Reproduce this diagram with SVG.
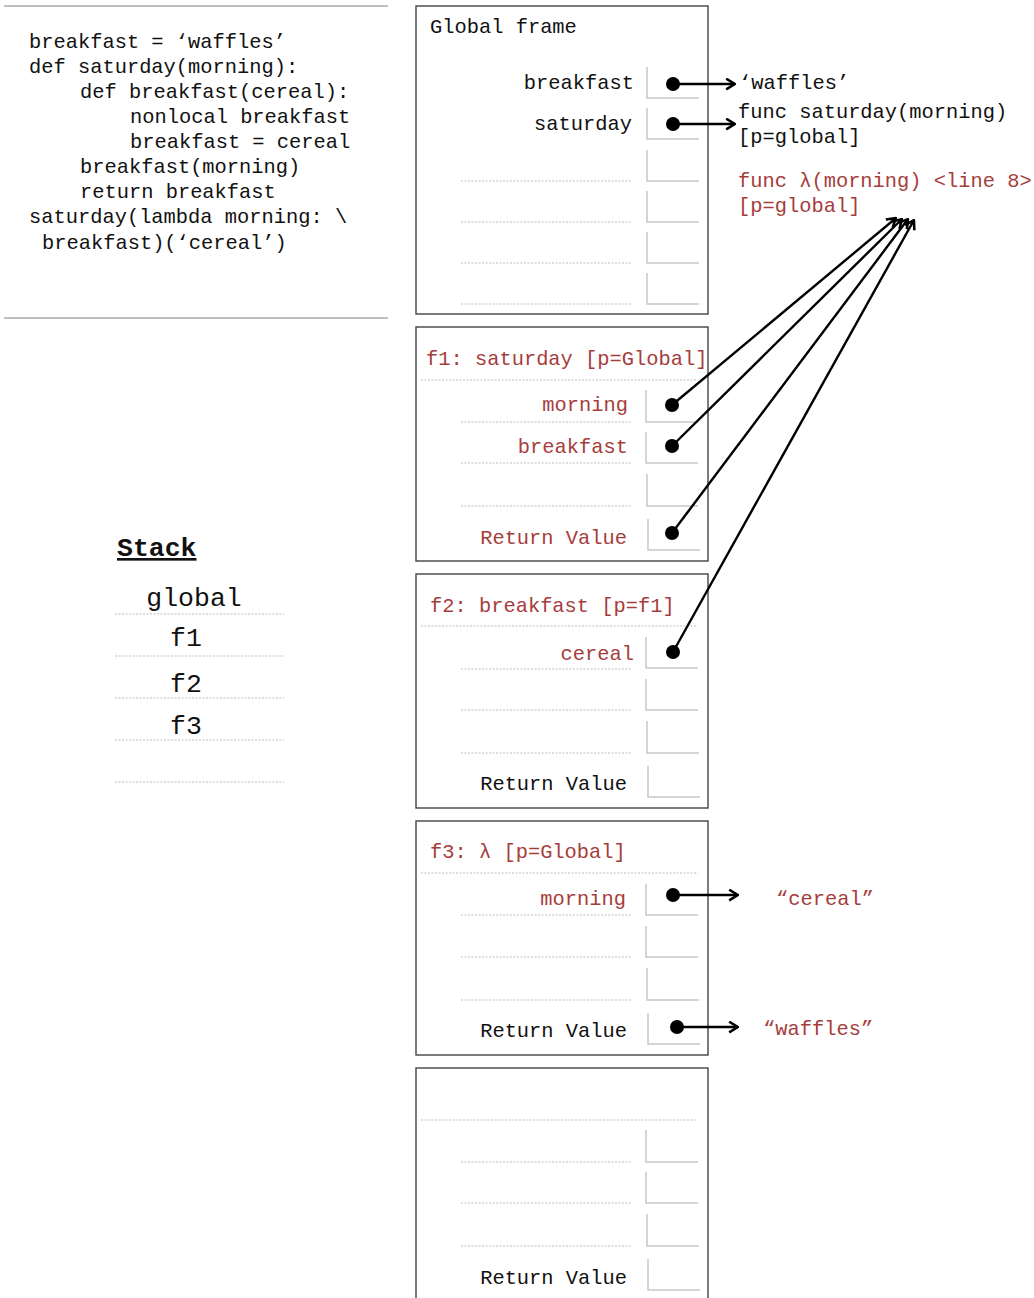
<svg xmlns="http://www.w3.org/2000/svg" width="1034" height="1298" viewBox="0 0 1034 1298">
<style>
text{font-family:"Liberation Mono","DejaVu Sans Mono",monospace;font-size:20.4px;fill:#111}
.r{fill:#a63d3d}
.e{text-anchor:end}
.frame{fill:#fff;stroke:#444;stroke-width:1.4}
.box{fill:none;stroke:#c3c9cd;stroke-width:1.5}
.dash{stroke:#b9bfc3;stroke-width:1;stroke-dasharray:2 1.5;fill:none}
.sep{stroke:#aaa;stroke-width:1.5}
.arr{stroke:#000;stroke-width:2.4;fill:none;marker-end:url(#ah)}
.dot{fill:#000}
.stk{font-size:26.5px}
</style>
<defs>
<marker id="ah" markerUnits="userSpaceOnUse" viewBox="0 0 11 13" refX="10" refY="6.5" markerWidth="11" markerHeight="13" orient="auto">
<path d="M1.2,1.2 L9.8,6.5 L1.2,11.8" fill="none" stroke="#000" stroke-width="2.6"/>
</marker>
</defs>
<rect width="1034" height="1298" fill="#fff"/>
<g id="code">
<line class="sep" x1="4" y1="6" x2="388" y2="6"/>
<line class="sep" x1="4" y1="318" x2="388" y2="318"/>
<text x="29" y="48" xml:space="preserve">breakfast = ‘waffles’</text>
<text x="29" y="73">def saturday(morning):</text>
<text x="80" y="98">def breakfast(cereal):</text>
<text x="130" y="123">nonlocal breakfast</text>
<text x="130" y="148">breakfast = cereal</text>
<text x="80" y="173">breakfast(morning)</text>
<text x="80" y="198">return breakfast</text>
<text x="29" y="223">saturday(lambda morning: \</text>
<text x="42" y="249">breakfast)(‘cereal’)</text>
</g>
<g id="stack">
<text class="stk" x="117" y="556" font-weight="bold" text-decoration="underline">Stack</text>
<text class="stk" x="194" y="606" text-anchor="middle">global</text>
<text class="stk" x="186" y="646" text-anchor="middle">f1</text>
<text class="stk" x="186" y="692" text-anchor="middle">f2</text>
<text class="stk" x="186" y="734" text-anchor="middle">f3</text>
<line class="dash" x1="115" y1="614" x2="284" y2="614"/>
<line class="dash" x1="115" y1="656" x2="284" y2="656"/>
<line class="dash" x1="115" y1="698" x2="284" y2="698"/>
<line class="dash" x1="115" y1="740" x2="284" y2="740"/>
<line class="dash" x1="115" y1="782" x2="284" y2="782"/>
</g>
<g id="global-frame">
<rect class="frame" x="416" y="6" width="292" height="308"/>
<text x="430" y="33">Global frame</text>
<text class="e" x="634" y="89">breakfast</text>
<path class="box" d="M647,67 V98 H699"/>
<text class="e" x="632" y="130">saturday</text>
<path class="box" d="M647,108 V139 H699"/>
<path class="box" d="M647,150 V181 H699"/>
<path class="box" d="M647,191 V222 H699"/>
<path class="box" d="M647,232 V263 H699"/>
<path class="box" d="M647,273 V304 H699"/>
<line class="dash" x1="461" y1="181" x2="631" y2="181"/>
<line class="dash" x1="461" y1="222" x2="631" y2="222"/>
<line class="dash" x1="461" y1="263" x2="631" y2="263"/>
<line class="dash" x1="461" y1="304" x2="631" y2="304"/>
</g>
<g id="f1">
<rect class="frame" x="416" y="327" width="292" height="234"/>
<text class="r" x="426" y="365">f1: saturday [p=Global]</text>
<line class="dash" x1="421" y1="380" x2="698" y2="380"/>
<text class="r e" x="628" y="411">morning</text>
<path class="box" d="M646,390 V422 H698"/>
<line class="dash" x1="461" y1="422" x2="631" y2="422"/>
<text class="r e" x="628" y="453">breakfast</text>
<path class="box" d="M646,432 V463 H698"/>
<line class="dash" x1="461" y1="463" x2="631" y2="463"/>
<path class="box" d="M647,474 V506 H698"/>
<line class="dash" x1="461" y1="506" x2="631" y2="506"/>
<text class="r e" x="627" y="544">Return Value</text>
<path class="box" d="M648,519 V550 H700"/>
</g>
<g id="f2">
<rect class="frame" x="416" y="574" width="292" height="234"/>
<text class="r" x="430" y="612">f2: breakfast [p=f1]</text>
<line class="dash" x1="421" y1="626" x2="698" y2="626"/>
<text class="r e" x="634" y="660">cereal</text>
<path class="box" d="M646,637 V668 H698"/>
<line class="dash" x1="461" y1="669" x2="631" y2="669"/>
<path class="box" d="M646,679 V710 H698"/>
<line class="dash" x1="461" y1="710" x2="631" y2="710"/>
<path class="box" d="M647,721 V753 H699"/>
<line class="dash" x1="461" y1="753" x2="631" y2="753"/>
<text class="e" x="627" y="790">Return Value</text>
<path class="box" d="M648,766 V797 H700"/>
</g>
<g id="f3">
<rect class="frame" x="416" y="821" width="292" height="234"/>
<text class="r" x="430" y="858">f3: λ [p=Global]</text>
<line class="dash" x1="421" y1="873" x2="698" y2="873"/>
<text class="r e" x="626" y="905">morning</text>
<path class="box" d="M646,884 V915 H698"/>
<line class="dash" x1="461" y1="915" x2="631" y2="915"/>
<path class="box" d="M646,926 V957 H698"/>
<line class="dash" x1="461" y1="957" x2="631" y2="957"/>
<path class="box" d="M647,968 V1000 H699"/>
<line class="dash" x1="461" y1="1000" x2="631" y2="1000"/>
<text class="e" x="627" y="1037">Return Value</text>
<path class="box" d="M648,1013 V1044 H700"/>
</g>
<g id="f4">
<rect class="frame" x="416" y="1068" width="292" height="240"/>
<line class="dash" x1="421" y1="1120" x2="698" y2="1120"/>
<path class="box" d="M646,1130 V1162 H698"/>
<line class="dash" x1="461" y1="1162" x2="631" y2="1162"/>
<path class="box" d="M646,1172 V1203 H698"/>
<line class="dash" x1="461" y1="1203" x2="631" y2="1203"/>
<path class="box" d="M647,1214 V1246 H699"/>
<line class="dash" x1="461" y1="1246" x2="631" y2="1246"/>
<text class="e" x="627" y="1284">Return Value</text>
<path class="box" d="M648,1259 V1290 H700"/>
</g>
<g id="values">
<text x="739" y="89">‘waffles’</text>
<text x="738" y="118">func saturday(morning)</text>
<text x="738" y="143">[p=global]</text>
<text class="r" x="738" y="187">func λ(morning) &lt;line 8&gt;</text>
<text class="r" x="738" y="212">[p=global]</text>
<text class="r" x="776" y="905">“cereal”</text>
<text class="r" x="763" y="1035">“waffles”</text>
</g>
<g id="connectors">
<line class="arr" x1="673" y1="84" x2="735" y2="84"/>
<line class="arr" x1="673" y1="124" x2="735" y2="124"/>
<line class="arr" x1="672" y1="405" x2="896" y2="218"/>
<line class="arr" x1="672" y1="446" x2="902" y2="219"/>
<line class="arr" x1="672" y1="533" x2="908" y2="219"/>
<line class="arr" x1="673" y1="652" x2="914" y2="220"/>
<line class="arr" x1="673" y1="895" x2="738" y2="895"/>
<line class="arr" x1="677" y1="1027" x2="738" y2="1027"/>
<circle class="dot" cx="673" cy="84" r="7"/>
<circle class="dot" cx="673" cy="124" r="7"/>
<circle class="dot" cx="672" cy="405" r="7"/>
<circle class="dot" cx="672" cy="446" r="7"/>
<circle class="dot" cx="672" cy="533" r="7"/>
<circle class="dot" cx="673" cy="652" r="7"/>
<circle class="dot" cx="673" cy="895" r="7"/>
<circle class="dot" cx="677" cy="1027" r="7"/>
</g>
</svg>
